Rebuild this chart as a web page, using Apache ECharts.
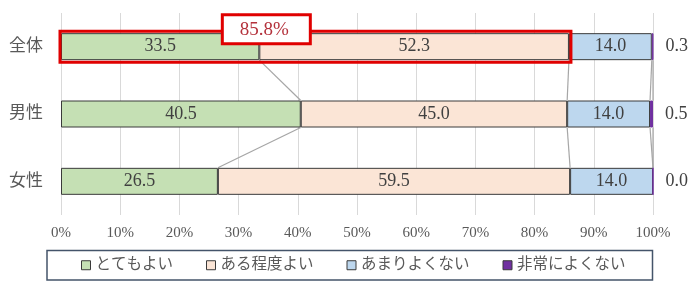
<!DOCTYPE html>
<html>
<head>
<meta charset="utf-8">
<script src="https://cdn.jsdelivr.net/npm/echarts@6/dist/echarts.min.js"></script>
</head>
<body style="margin:0;padding:0;background:#fff;">
<div id="main" style="width:700px;height:287px;"></div>
<script>
// 設問カテゴリ
var categories = ['全体', '男性', '女性'];
var seriesNames = ['とてもよい', 'ある程度よい', 'あまりよくない', '非常によくない'];
var veryGood = [33.5, 40.5, 26.5];
var fairlyGood = [52.3, 45.0, 59.5];
var notGood = [14.0, 14.0, 14.0];
var veryBad = [0.3, 0.5, 0.0];
var colors = ['#c5e0b4', '#fbe5d6', '#bdd7ee', '#7030a0'];

var FONT = '"Liberation Serif", "Noto Sans CJK JP", serif';
var BAR_H = 27;

var allValues = [veryGood, fairlyGood, notGood, veryBad];

// 累積値（区分線用）
var cum = categories.map(function (c, i) {
    var s = 0, out = [];
    allValues.forEach(function (arr) { s += arr[i]; out.push(s); });
    return out;
});

// 区分線のデータ [上の累積, 下の累積, 上のカテゴリ]
var seriesLines = [];
for (var i = 0; i < categories.length - 1; i++) {
    for (var k = 0; k < allValues.length; k++) {
        seriesLines.push([Math.min(cum[i][k], 100), Math.min(cum[i + 1][k], 100), i]);
    }
}

// 強調枠：全体の「よい」合計
var goodTotal = +(veryGood[0] + fairlyGood[0]).toFixed(1);

var myChart = echarts.init(document.getElementById('main'));

var barSeries = allValues.map(function (arr, k) {
    var last = k === allValues.length - 1;
    return {
        name: seriesNames[k],
        type: 'bar',
        stack: 'total',
        barWidth: BAR_H,
        data: arr,
        itemStyle: { color: colors[k], borderColor: last ? colors[k] : '#3a3a3a', borderWidth: 1 },
        label: {
            show: true,
            position: last ? 'right' : 'inside',
            distance: last ? 12 : 5,
            formatter: function (p) { return p.value.toFixed(1); },
            fontFamily: FONT,
            fontSize: 18,
            color: '#404040'
        },
        z: 2
    };
});

var option = {
    backgroundColor: '#fff',
    animation: false,
    color: colors,
    grid: { left: 61, right: 47, top: 13, bottom: 72 },
    xAxis: {
        type: 'value',
        min: 0,
        max: 100,
        interval: 10,
        axisLine: { show: false },
        axisTick: { show: false },
        splitLine: { lineStyle: { color: '#d9d9d9', width: 1 } },
        axisLabel: {
            formatter: '{value}%',
            fontFamily: FONT,
            fontSize: 15,
            color: '#595959',
            margin: 11
        }
    },
    yAxis: {
        type: 'category',
        data: categories,
        inverse: true,
        axisLine: { show: false },
        axisTick: { show: false },
        axisLabel: { fontFamily: FONT, fontSize: 17, color: '#595959', margin: 18 }
    },
    legend: {
        data: seriesNames,
        left: 47,
        bottom: 7,
        itemWidth: 9,
        itemHeight: 9,
        itemGap: 33,
        icon: 'rect',
        borderColor: '#44546a',
        borderWidth: 1.5,
        padding: [7, 27, 7, 34],
        itemStyle: { borderColor: '#3a3a3a', borderWidth: 1 },
        textStyle: { fontFamily: FONT, fontSize: 15.5, color: '#595959' }
    },
    series: barSeries.concat([
        {
            type: 'custom',
            name: 'connectors',
            silent: true,
            encode: { x: [0, 1], y: 2 },
            data: seriesLines,
            z: 1,
            renderItem: function (params, api) {
                var i = api.value(2);
                var a = api.coord([api.value(0), i]);
                var b = api.coord([api.value(1), i + 1]);
                return {
                    type: 'line',
                    shape: { x1: a[0], y1: a[1] + BAR_H / 2, x2: b[0], y2: b[1] - BAR_H / 2 },
                    style: { stroke: '#a6a6a6', lineWidth: 1.2 }
                };
            }
        },
        {
            type: 'custom',
            name: 'highlight',
            silent: true,
            encode: { x: [0, 1], y: 2 },
            data: [[0, goodTotal, 0, veryGood[0]]],
            z: 5,
            renderItem: function (params, api) {
                var s = api.coord([api.value(0), api.value(2)]);
                var e = api.coord([api.value(1), api.value(2)]);
                var m = api.coord([api.value(3), api.value(2)]);
                var cx = m[0] + 7;
                return {
                    type: 'group',
                    children: [
                        {
                            type: 'rect',
                            shape: { x: s[0] - 1, y: s[1] - BAR_H / 2 - 2, width: e[0] - s[0] + 3, height: BAR_H + 4 },
                            style: { fill: 'none', stroke: '#e00000', lineWidth: 3 }
                        },
                        {
                            type: 'rect',
                            shape: { x: cx - 44, y: s[1] - 32, width: 88, height: 29 },
                            style: { fill: '#fff', stroke: '#e00000', lineWidth: 3 }
                        },
                        {
                            type: 'text',
                            style: {
                                x: cx - 2, y: s[1] - 17,
                                text: api.value(1).toFixed(1) + '%',
                                align: 'center', verticalAlign: 'middle',
                                fontFamily: FONT, fontSize: 19, fill: '#b4323c'
                            }
                        }
                    ]
                };
            }
        }
    ])
};
myChart.setOption(option);
</script>
</body>
</html>
